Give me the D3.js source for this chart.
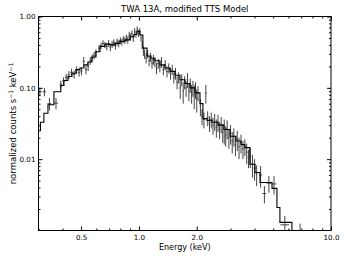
<!DOCTYPE html>
<html>
<head>
<meta charset="utf-8">
<script src="https://cdn.jsdelivr.net/npm/d3@7"></script>
<style>
  body { margin: 0; background: #fff; }
  text { font-family: "DejaVu Sans", sans-serif; fill: #000; }
</style>
</head>
<body>
<script>
// model step (left bin edge in keV, normalized counts s^-1 keV^-1)
const modelEnergy = [0.300, 0.307, 0.320, 0.336, 0.361, 0.392, 0.407, 0.427, 0.448, 0.470, 0.493, 0.517, 0.542,
  0.569, 0.597, 0.627, 0.665, 0.706, 0.750, 0.796, 0.846, 0.898, 0.942, 0.976, 1.012, 1.049, 1.101, 1.155,
  1.212, 1.286, 1.365, 1.449, 1.540, 1.635, 1.736, 1.843, 1.957, 2.079, 2.154, 2.260, 2.400, 2.580, 2.770,
  2.980, 3.200, 3.400, 3.560, 3.780, 4.020, 4.270, 4.930, 5.230, 5.420, 6.260];
const modelCounts = [0.025, 0.033, 0.044, 0.058, 0.088, 0.108, 0.127, 0.144, 0.160, 0.180, 0.190, 0.210, 0.230,
  0.270, 0.320, 0.380, 0.410, 0.400, 0.420, 0.450, 0.470, 0.520, 0.560, 0.620, 0.550, 0.360, 0.280, 0.260,
  0.240, 0.210, 0.190, 0.170, 0.150, 0.130, 0.115, 0.100, 0.085, 0.060, 0.037, 0.035, 0.033, 0.030, 0.026,
  0.021, 0.018, 0.016, 0.0145, 0.0085, 0.0065, 0.0047, 0.0039, 0.0021, 0.0013, 0.0004];

// data points
const energy = [0.305, 0.322, 0.342, 0.370, 0.392, 0.405, 0.418, 0.432, 0.446, 0.460, 0.474, 0.488, 0.502,
  0.516, 0.530, 0.544, 0.558, 0.571, 0.584, 0.597,
  0.620, 0.635, 0.650, 0.665, 0.680, 0.695, 0.710, 0.725, 0.740, 0.755, 0.770, 0.785, 0.800, 0.815, 0.830,
  0.845, 0.860, 0.875, 0.890, 0.905, 0.920, 0.935, 0.950, 0.965, 0.980, 0.995, 1.010, 1.025, 1.040, 1.055,
  1.070, 1.090, 1.110, 1.130, 1.150, 1.170, 1.190, 1.210, 1.235, 1.260, 1.285, 1.310, 1.340, 1.370, 1.400,
  1.430, 1.460, 1.490, 1.520, 1.550, 1.580, 1.610, 1.640, 1.670, 1.700, 1.730, 1.760, 1.790, 1.820, 1.850,
  1.880, 1.910, 1.940, 1.970, 2.000, 2.030, 2.090, 2.130, 2.180, 2.230, 2.280, 2.330, 2.380, 2.430, 2.480,
  2.530, 2.580, 2.630, 2.680, 2.730, 2.780, 2.830, 2.880, 2.940, 3.000, 3.060, 3.120, 3.180, 3.250, 3.320,
  3.400, 3.480, 3.560, 3.640, 3.720, 3.800, 3.900, 4.000, 4.100, 4.300, 4.500, 4.750, 5.050, 5.750, 6.900];
const counts = [0.088, 0.088, 0.060, 0.061, 0.112, 0.125, 0.140, 0.152, 0.165, 0.155, 0.178, 0.165, 0.172,
  0.235, 0.180, 0.200, 0.240, 0.265, 0.285, 0.310,
  0.360, 0.390, 0.420, 0.400, 0.380, 0.420, 0.370, 0.410, 0.430, 0.390, 0.440, 0.420, 0.460, 0.440, 0.480,
  0.460, 0.500, 0.470, 0.550, 0.520, 0.580, 0.500, 0.620, 0.560, 0.660, 0.580, 0.620, 0.500, 0.400, 0.330,
  0.300, 0.260, 0.300, 0.240, 0.270, 0.220, 0.250, 0.230, 0.190, 0.220, 0.200, 0.230, 0.180, 0.210, 0.170,
  0.190, 0.160, 0.180, 0.140, 0.160, 0.120, 0.140, 0.100, 0.130, 0.090, 0.120, 0.100, 0.130, 0.090, 0.110,
  0.085, 0.100, 0.080, 0.095, 0.070, 0.085, 0.055, 0.040, 0.036, 0.085, 0.038, 0.032, 0.036, 0.030, 0.034,
  0.028, 0.033, 0.026, 0.031, 0.024, 0.026, 0.022, 0.027, 0.020, 0.023, 0.018, 0.021, 0.016, 0.019, 0.015,
  0.017, 0.014, 0.0150, 0.0125, 0.0105, 0.0110, 0.0085, 0.0075, 0.0062, 0.0060, 0.0033, 0.0046, 0.0045, 0.0012, 0.00105];
const countsErr = [0.012, 0.012, 0.012, 0.011, 0.014, 0.015, 0.017, 0.020, 0.020, 0.020, 0.022, 0.022, 0.022,
  0.035, 0.025, 0.028, 0.030, 0.030, 0.035, 0.035,
  0.040, 0.040, 0.045, 0.040, 0.045, 0.045, 0.045, 0.045, 0.050, 0.045, 0.050, 0.050, 0.050, 0.050, 0.050,
  0.050, 0.055, 0.055, 0.060, 0.060, 0.060, 0.060, 0.065, 0.060, 0.070, 0.065, 0.070, 0.060, 0.050, 0.050,
  0.045, 0.040, 0.040, 0.040, 0.040, 0.035, 0.040, 0.035, 0.035, 0.035, 0.035, 0.040, 0.030, 0.035, 0.030,
  0.030, 0.030, 0.030, 0.025, 0.030, 0.025, 0.025, 0.030, 0.025, 0.030, 0.025, 0.025, 0.030, 0.025, 0.025,
  0.025, 0.025, 0.030, 0.025, 0.025, 0.020, 0.015, 0.010, 0.009, 0.025, 0.009, 0.008, 0.009, 0.008, 0.009,
  0.008, 0.009, 0.007, 0.008, 0.007, 0.010, 0.007, 0.008, 0.006, 0.007, 0.006, 0.006, 0.005, 0.006, 0.005,
  0.005, 0.004, 0.004, 0.004, 0.003, 0.0035, 0.003, 0.0025, 0.002, 0.002, 0.0009, 0.0012, 0.0013, 0.0004, 0.0002];
const binHalf = [0.006, 0.007, 0.008, 0.009, 0.006, 0.006, 0.006, 0.007, 0.007, 0.007, 0.007, 0.007, 0.007,
  0.007, 0.007, 0.007, 0.006, 0.006, 0.006, 0.006,
  0.0075, 0.0075, 0.0075, 0.0075, 0.0075, 0.0075, 0.0075, 0.0075, 0.0075, 0.0075, 0.0075, 0.0075, 0.0075, 0.0075, 0.0075,
  0.0075, 0.0075, 0.0075, 0.0075, 0.0075, 0.0075, 0.0075, 0.0075, 0.0075, 0.0075, 0.0075, 0.0075, 0.0075, 0.0075, 0.0075,
  0.008, 0.01, 0.01, 0.01, 0.01, 0.01, 0.01, 0.01, 0.012, 0.012, 0.012, 0.012, 0.015, 0.015, 0.015,
  0.015, 0.015, 0.015, 0.015, 0.015, 0.015, 0.015, 0.015, 0.015, 0.015, 0.015, 0.015, 0.015, 0.015, 0.015,
  0.015, 0.015, 0.015, 0.015, 0.015, 0.015, 0.02, 0.02, 0.025, 0.025, 0.025, 0.025, 0.025, 0.025, 0.025,
  0.025, 0.025, 0.025, 0.025, 0.025, 0.025, 0.025, 0.025, 0.03, 0.03, 0.03, 0.03, 0.03, 0.035, 0.035,
  0.04, 0.04, 0.04, 0.04, 0.04, 0.04, 0.05, 0.05, 0.05, 0.08, 0.1, 0.12, 0.15, 0.3, 0];

const xTicks = [0.5, 1.0, 2.0, 10.0];
const xMinor = [0.3, 0.4, 0.6, 0.7, 0.8, 0.9, 3, 4, 5, 6, 7, 8, 9];
const yTicks = [1, 0.1, 0.01];
const yMinor = [2, 3, 4, 5, 6, 7, 8, 9].flatMap(m => [m * 0.001, m * 0.01, m * 0.1]);

const width = 346, height = 260,
      mLeft = 38.5, mRight = 331, mTop = 16.5, mBottom = 230.5;

const svg = d3.select("body").append("svg")
              .attr("width", width)
              .attr("height", height);

const x = d3.scaleLog().domain([0.3, 10]).range([mLeft, mRight]),
      y = d3.scaleLog().domain([0.001, 1]).range([mBottom, mTop]);

svg.append("clipPath").attr("id", "clip")
   .append("rect").attr("x", mLeft).attr("y", mTop)
   .attr("width", mRight - mLeft).attr("height", mBottom - mTop);

const plot = svg.append("g").attr("clip-path", "url(#clip)");

// data crosses
const pts = energy.map((e, i) => ({e: e, v: counts[i], err: countsErr[i], h: binHalf[i]}));

plot.selectAll("line.ey").data(pts).enter().append("line")
    .attr("class", "ey")
    .attr("x1", d => x(d.e)).attr("x2", d => x(d.e))
    .attr("y1", d => y(Math.max(d.v - d.err, 0.0001))).attr("y2", d => y(d.v + d.err))
    .attr("stroke", "#444").attr("stroke-width", 1);

plot.selectAll("line.ex").data(pts.filter(d => d.h > 0)).enter().append("line")
    .attr("class", "ex")
    .attr("x1", d => x(d.e - d.h)).attr("x2", d => x(d.e + d.h))
    .attr("y1", d => y(d.v)).attr("y2", d => y(d.v))
    .attr("stroke", "#444").attr("stroke-width", 1);

// model step line
const modelPts = modelEnergy.map((e, i) => [e, modelCounts[i]]);
plot.append("path")
    .datum(modelPts)
    .attr("fill", "none")
    .attr("stroke", "#000")
    .attr("stroke-width", 1.1)
    .attr("d", d3.line().x(d => x(d[0])).y(d => y(d[1])).curve(d3.curveStepAfter));

// axes, ticks inward on all sides
const noLabel = () => "";
svg.append("g").attr("transform", `translate(0,${mBottom})`)
   .call(d3.axisBottom(x).tickValues(xTicks).tickFormat(d3.format(".1f")).tickSize(-4).tickPadding(4));
svg.append("g").attr("transform", `translate(0,${mBottom})`)
   .call(d3.axisBottom(x).tickValues(xMinor).tickFormat(noLabel).tickSize(-2));
svg.append("g").attr("transform", `translate(0,${mTop})`)
   .call(d3.axisTop(x).tickValues(xTicks).tickFormat(noLabel).tickSize(-4));
svg.append("g").attr("transform", `translate(0,${mTop})`)
   .call(d3.axisTop(x).tickValues(xMinor).tickFormat(noLabel).tickSize(-2));
svg.append("g").attr("transform", `translate(${mLeft},0)`)
   .call(d3.axisLeft(y).tickValues(yTicks).tickFormat(d3.format(".2f")).tickSize(-4).tickPadding(3));
svg.append("g").attr("transform", `translate(${mLeft},0)`)
   .call(d3.axisLeft(y).tickValues(yMinor).tickFormat(noLabel).tickSize(-2));
svg.append("g").attr("transform", `translate(${mRight},0)`)
   .call(d3.axisRight(y).tickValues(yTicks).tickFormat(noLabel).tickSize(-4));
svg.append("g").attr("transform", `translate(${mRight},0)`)
   .call(d3.axisRight(y).tickValues(yMinor).tickFormat(noLabel).tickSize(-2));

svg.selectAll(".domain").remove();
svg.selectAll(".tick text").style("font-size", "7.2px").style("font-family", "DejaVu Sans");

// frame
svg.append("rect")
   .attr("x", mLeft).attr("y", mTop)
   .attr("width", mRight - mLeft).attr("height", mBottom - mTop)
   .attr("fill", "none").attr("stroke", "#000").attr("stroke-width", 1);

// labels
svg.append("text")
   .attr("x", (mLeft + mRight) / 2).attr("y", 12)
   .attr("text-anchor", "middle").style("font-size", "8.5px")
   .text("TWA 13A, modified TTS Model");

svg.append("text")
   .attr("x", (mLeft + mRight) / 2).attr("y", 250)
   .attr("text-anchor", "middle").style("font-size", "8px")
   .text("Energy (keV)");

const yl = svg.append("text")
   .attr("transform", `translate(16,${(mTop + mBottom) / 2}) rotate(-90)`)
   .attr("text-anchor", "middle").style("font-size", "8.5px");
yl.append("tspan").text("normalized counts s");
yl.append("tspan").attr("dy", -3.5).style("font-size", "6px").text("\u22121");
yl.append("tspan").attr("dy", 3.5).text(" keV");
yl.append("tspan").attr("dy", -3.5).style("font-size", "6px").text("\u22121");
</script>
</body>
</html>
